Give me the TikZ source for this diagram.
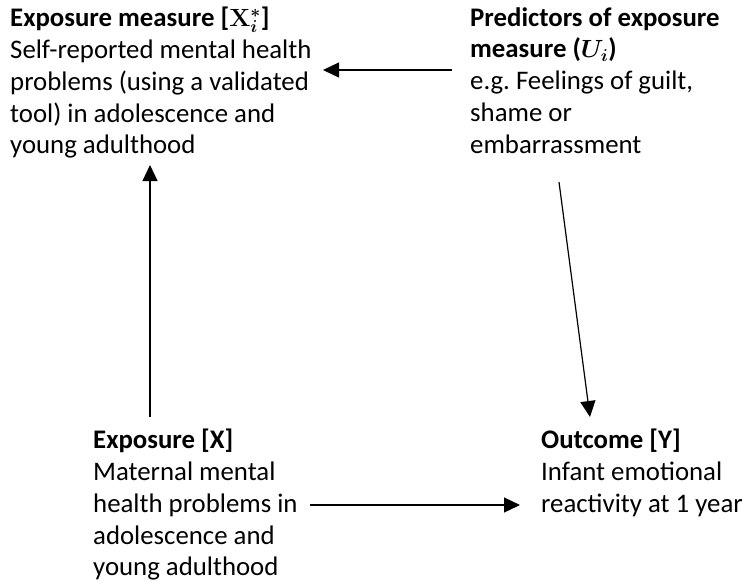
\documentclass[tikz,border=0pt]{standalone}
\usepackage[no-math]{fontspec}
\setmainfont{Carlito}
\usepackage{bm}
\usetikzlibrary{arrows.meta}
\frenchspacing
\begin{document}
\begin{tikzpicture}[x=1pt,y=-1pt,
  blocktext/.style={anchor=north west,inner sep=0pt,align=left,
    font=\fontsize{26.8}{31.75}\selectfont},
  conn/.style={line width=1.2pt,-{Triangle[length=16pt,width=15pt]}}]
\useasboundingbox (0,0) rectangle (744,584);
\node[blocktext] (meas) at (10,7) {\textbf{Exposure measure [}$\mathbf{X}_{\bm{i}}^{\bm{*}}$\textbf{]}\\Self-reported mental health\\problems (using a validated\\tool) in adolescence and\\young adulthood};
\node[blocktext] (pred) at (470,7) {\textbf{Predictors of exposure}\\\textbf{measure (}$\bm{U_i}$\textbf{)}\\e.g. Feelings of guilt,\\shame or\\embarrassment};
\node[blocktext] (expo) at (93,429) {\textbf{Exposure [X]}\\Maternal mental\\health problems in\\adolescence and\\young adulthood};
\node[blocktext] (outc) at (541,429) {\textbf{Outcome [Y]}\\Infant emotional\\reactivity at 1 year};
\coordinate (predL) at (452,70);
\coordinate (measR) at (323,70);
\coordinate (expoT) at (150,417);
\coordinate (measB) at (150,165);
\coordinate (predB) at (559,182);
\coordinate (outcT) at (590,417);
\coordinate (expoR) at (310,505);
\coordinate (outcL) at (520,505);
\draw[conn] (predL) -- (measR);
\draw[conn] (expoT) -- (measB);
\draw[conn] (predB) -- (outcT);
\draw[conn] (expoR) -- (outcL);
\end{tikzpicture}
\end{document}
